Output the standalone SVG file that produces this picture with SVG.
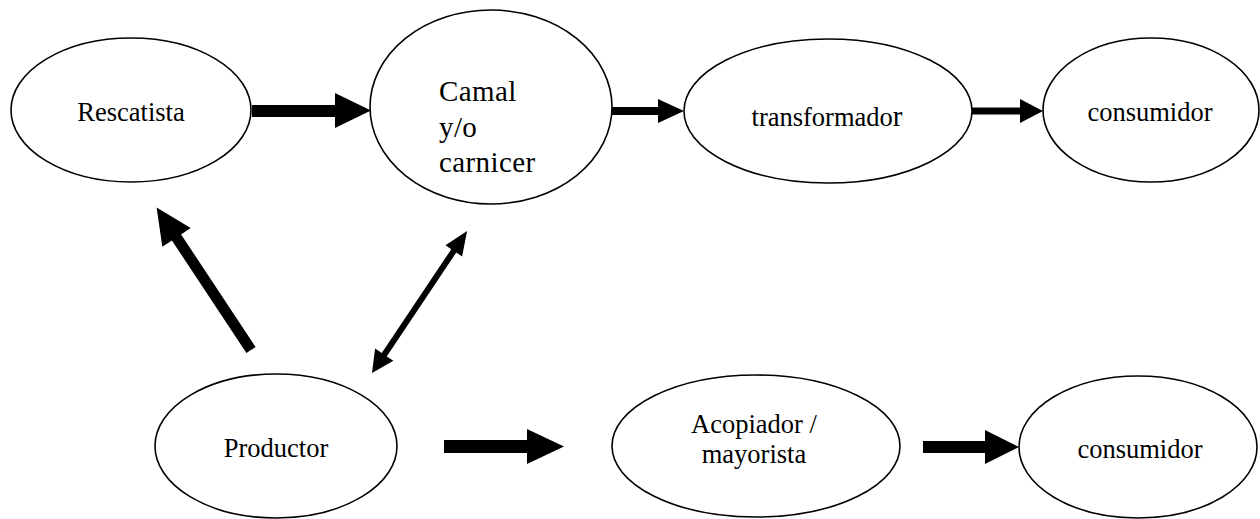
<svg xmlns="http://www.w3.org/2000/svg" width="1260" height="519" viewBox="0 0 1260 519">
<style>
.node ellipse{fill:#fff;stroke:#000;stroke-width:1.6}
.t{font-family:"Liberation Serif","Times New Roman",serif;font-size:26.5px;fill:#000;text-anchor:middle}
.c{font-family:"Liberation Serif","Times New Roman",serif;font-size:29px;letter-spacing:0.4px;fill:#000}
.arr{fill:#000;stroke:none}
</style>
<rect width="1260" height="519" fill="#fff"/>
<g id="connectors">
<polygon class="arr" points="252,105 335,105 335,93 371,110.5 335,128 335,117 252,117"/>
<polygon class="arr" points="612,107 658,107 658,99 684,111 658,123 658,115 612,115"/>
<polygon class="arr" points="972,107.5 1020,107.5 1020,99 1043,111 1020,123 1020,114.5 972,114.5"/>
<polygon class="arr" points="444,440 527,440 527,429 564,446.5 527,464 527,453 444,453"/>
<polygon class="arr" points="923,441 985,441 985,430 1019,447 985,464 985,453 923,453"/>
<polygon class="arr" transform="translate(251,350) rotate(-123.5)" points="0,-5.5 135,-5.5 135,-17 171,0 135,17 135,5.5 0,5.5"/>
<polygon class="arr" transform="translate(372,373) rotate(-56.2)" points="0,0 22,-11 22,-3 147,-3 147,-10 171,0 147,10 147,3 22,3 22,11"/>
</g>
<g id="rescatista" class="node"><ellipse cx="131" cy="110" rx="120" ry="72"/><text class="t" x="131" y="121">Rescatista</text></g>
<g id="camal" class="node"><ellipse cx="491" cy="107" rx="121" ry="97"/><text class="c" x="439" y="101">Camal</text><text class="c" x="439" y="137">y/o</text><text class="c" x="439" y="172">carnicer</text></g>
<g id="transformador" class="node"><ellipse cx="828" cy="111" rx="144" ry="72"/><text class="t" x="827" y="126">transformado<tspan font-size="29">r</tspan></text></g>
<g id="consumidor1" class="node"><ellipse cx="1151" cy="110" rx="108" ry="72"/><text class="t" x="1150" y="121">consumidor</text></g>
<g id="productor" class="node"><ellipse cx="276" cy="446" rx="121" ry="72"/><text class="t" x="276" y="457">Productor</text></g>
<g id="acopiador" class="node"><ellipse cx="756" cy="446" rx="144" ry="71"/><text class="t" x="754" y="433">Acopiador /</text><text class="t" x="754" y="463">mayorista</text></g>
<g id="consumidor2" class="node"><ellipse cx="1138" cy="447" rx="119" ry="71"/><text class="t" x="1140" y="458">consumidor</text></g>
</svg>
